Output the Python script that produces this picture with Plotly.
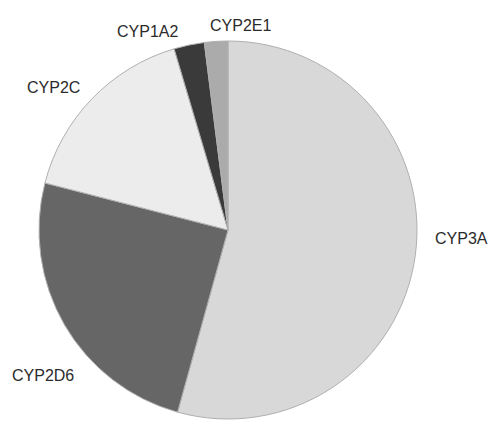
import plotly.graph_objects as go

# Share of drug metabolism by CYP enzyme (%)
enzymes = ["CYP3A", "CYP2D6", "CYP2C", "CYP1A2", "CYP2E1"]
shares = [54.3, 24.7, 16.4, 2.6, 2.0]
colors = ["#d8d8d8", "#666666", "#ececec", "#3a3a3a", "#ababab"]

# Label anchor points in pixels (x, y from top) on the 491x425 canvas
label_pos = {
    "CYP3A": (490, 238, "right"),
    "CYP2D6": (10, 375, "left"),
    "CYP2C": (25, 88, "left"),
    "CYP1A2": (115, 31, "left"),
    "CYP2E1": (208, 25, "left"),
}

W, H = 491, 425
cx, cy, r = 228, 230, 189

fig = go.Figure(
    go.Pie(
        labels=enzymes,
        values=shares,
        sort=False,
        direction="clockwise",
        rotation=0,
        textinfo="none",
        hoverinfo="label+percent",
        marker=dict(colors=colors, line=dict(color="#b0b0b0", width=1)),
        domain=dict(
            x=[(cx - r) / W, (cx + r) / W],
            y=[1 - (cy + r) / H, 1 - (cy - r) / H],
        ),
        showlegend=False,
    )
)

annotations = []
for name in enzymes:
    px, py, anchor = label_pos[name]
    annotations.append(
        dict(
            text=name,
            x=px / W,
            y=1 - py / H,
            xref="paper",
            yref="paper",
            xanchor=anchor,
            yanchor="middle",
            showarrow=False,
            font=dict(family="Liberation Sans, Arial, sans-serif", size=16, color="#2b2b2b"),
        )
    )

fig.update_layout(
    width=W,
    height=H,
    margin=dict(l=0, r=0, t=0, b=0),
    paper_bgcolor="white",
    plot_bgcolor="white",
    annotations=annotations,
)

fig.write_html("out.html")
